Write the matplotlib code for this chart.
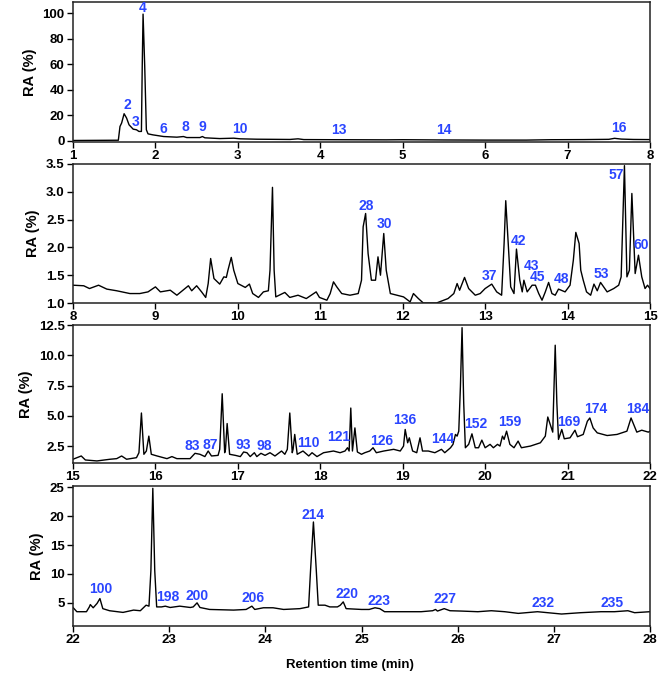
import matplotlib
matplotlib.use("Agg")
import matplotlib.pyplot as plt

plt.rcParams['font.family'] = ['Liberation Sans', 'DejaVu Sans']
plt.rcParams['font.weight'] = 'bold'

# ---------------- data ----------------
# Panel 1 (1-8 min)
t1 = [1.0, 1.55, 1.57, 1.59, 1.62, 1.65, 1.68, 1.73, 1.77, 1.80, 1.83, 1.84, 1.85, 1.87, 1.89,
      1.91, 1.97, 2.10, 2.26, 2.34, 2.38, 2.54, 2.57, 2.60, 2.78, 2.95, 3.03, 3.23, 3.63, 3.73,
      3.80, 4.20, 4.80, 5.00, 5.50, 6.00, 6.50, 6.80, 7.20, 7.50, 7.57, 7.65, 7.80, 8.0]
v1 = [0.3, 0.5, 11.3, 14.0, 21.3, 17.9, 12.6, 9.2, 8.7, 7.4, 7.4, 58.7, 99.5, 58.7, 8.7,
      5.5, 4.7, 3.4, 2.9, 3.4, 2.6, 2.6, 3.4, 2.4, 1.8, 2.1, 1.6, 1.3, 1.1, 1.6,
      1.0, 0.9, 0.8, 0.9, 0.7, 0.6, 0.6, 0.9, 1.0, 1.2, 2.0, 1.4, 1.1, 1.0]
lab1 = ['2', '3', '4', '6', '8', '9', '10', '13', '14', '16']
lx1 = [1.66, 1.76, 1.84, 2.10, 2.36, 2.57, 3.02, 4.23, 5.50, 7.62]
ly1 = [28.4, 14.7, 104, 9.5, 10.5, 10.5, 9.2, 8.7, 8.7, 10.0]

# Panel 2 (8-15 min)
t2 = [8.00, 8.13, 8.20, 8.31, 8.41, 8.53, 8.69, 8.81, 8.91, 9.00, 9.06, 9.18, 9.26, 9.40, 9.44,
      9.50, 9.56, 9.61, 9.64, 9.67, 9.71, 9.78, 9.83, 9.86, 9.88, 9.92, 9.95, 10.00, 10.09, 10.14,
      10.18, 10.25, 10.31, 10.37, 10.39, 10.42, 10.44, 10.46, 10.57, 10.63, 10.73, 10.83, 10.95,
      10.99, 11.08, 11.12, 11.16, 11.20, 11.26, 11.36, 11.46, 11.50, 11.52, 11.55, 11.58, 11.62,
      11.67, 11.70, 11.73, 11.77, 11.80, 11.85, 11.93, 12.01, 12.09, 12.13, 12.19, 12.25, 12.41,
      12.55, 12.62, 12.66, 12.69, 12.75, 12.80, 12.88, 12.94, 13.00, 13.08, 13.14, 13.20, 13.23,
      13.25, 13.28, 13.31, 13.35, 13.38, 13.42, 13.45, 13.47, 13.51, 13.57, 13.61, 13.65, 13.69,
      13.73, 13.77, 13.81, 13.85, 13.89, 13.97, 14.03, 14.07, 14.10, 14.14, 14.16, 14.19, 14.23,
      14.28, 14.32, 14.36, 14.40, 14.48, 14.56, 14.62, 14.65, 14.69, 14.72, 14.75, 14.78, 14.82,
      14.86, 14.90, 14.94, 14.97, 15.00]
v2 = [1.32, 1.31, 1.26, 1.32, 1.25, 1.22, 1.17, 1.17, 1.20, 1.29, 1.20, 1.23, 1.14, 1.31, 1.22,
      1.31, 1.20, 1.10, 1.35, 1.80, 1.44, 1.34, 1.47, 1.46, 1.59, 1.82, 1.59, 1.35, 1.28, 1.34,
      1.17, 1.10, 1.20, 1.22, 1.59, 3.08, 1.59, 1.11, 1.19, 1.10, 1.14, 1.08, 1.20,
      1.10, 1.05, 1.17, 1.38, 1.29, 1.17, 1.14, 1.17, 1.41, 2.37, 2.61, 1.89, 1.41,
      1.41, 1.83, 1.50, 2.25, 1.59, 1.17, 1.14, 1.11, 1.02, 1.17, 1.08, 1.00, 1.00,
      1.08, 1.17, 1.35, 1.23, 1.46, 1.26, 1.14, 1.17, 1.26, 1.34, 1.20, 1.14, 2.07,
      2.84, 2.07, 1.29, 1.17, 1.97, 1.41, 1.20, 1.41, 1.20, 1.32, 1.32, 1.17, 1.05,
      1.20, 1.37, 1.17, 1.14, 1.25, 1.20, 1.32, 1.77, 2.27, 2.07, 1.59, 1.41, 1.20,
      1.14, 1.34, 1.22, 1.37, 1.20, 1.26, 1.32, 1.47, 3.47, 1.47, 1.59, 2.97, 1.53,
      1.86, 1.47, 1.26, 1.32, 1.26]
lab2 = ['28', '30', '37', '42', '43', '45', '48', '53', '57', '60']
lx2 = [11.56, 11.78, 13.05, 13.40, 13.56, 13.64, 13.93, 14.41, 14.59, 14.89]
ly2 = [2.75, 2.42, 1.49, 2.12, 1.67, 1.46, 1.44, 1.52, 3.30, 2.04]

# Panel 3 (15-22 min)
t3 = [15.00, 15.10, 15.15, 15.29, 15.45, 15.53, 15.59, 15.65, 15.77, 15.80, 15.83, 15.86, 15.89,
      15.92, 15.95, 16.02, 16.14, 16.20, 16.26, 16.42, 16.48, 16.54, 16.60, 16.64, 16.68, 16.76,
      16.78, 16.81, 16.84, 16.85, 16.87, 16.90, 16.97, 17.03, 17.07, 17.11, 17.15, 17.20, 17.23,
      17.28, 17.33, 17.39, 17.45, 17.53, 17.57, 17.60, 17.63, 17.66, 17.67, 17.69, 17.72, 17.79,
      17.86, 17.90, 17.96, 18.04, 18.16, 18.24, 18.30, 18.33, 18.35, 18.37, 18.39, 18.42, 18.45,
      18.50, 18.54, 18.60, 18.64, 18.68, 18.77, 18.89, 18.97, 19.01, 19.03, 19.06, 19.08, 19.12,
      19.17, 19.21, 19.24, 19.31, 19.39, 19.47, 19.51, 19.58, 19.61, 19.64, 19.66, 19.68, 19.70,
      19.72, 19.74, 19.76, 19.80, 19.84, 19.88, 19.92, 19.96, 20.00, 20.06, 20.10, 20.15, 20.18,
      20.21, 20.23, 20.26, 20.30, 20.35, 20.40, 20.44, 20.55, 20.67, 20.73, 20.76, 20.79, 20.82,
      20.85, 20.87, 20.89, 20.93, 20.96, 21.03, 21.09, 21.12, 21.19, 21.24, 21.27, 21.31, 21.36,
      21.48, 21.60, 21.72, 21.77, 21.81, 21.84, 21.90, 21.98, 22.00]
v3 = [1.41, 1.68, 1.35, 1.27, 1.41, 1.46, 1.68, 1.41, 1.54, 1.95, 5.23, 1.82, 2.09,
      3.32, 1.82, 1.68, 1.46, 1.63, 1.46, 1.46, 1.90, 1.82, 1.63, 2.09, 1.68, 1.73,
      2.23, 6.82, 1.95, 2.23, 4.36, 1.82, 1.73, 1.63, 2.01, 1.95, 1.63, 1.95, 1.63,
      1.90, 1.73, 1.95, 1.68, 2.09, 1.82, 2.23, 5.23, 1.95, 2.23, 3.46, 1.82, 2.09,
      1.68, 1.95, 1.63, 1.95, 2.09, 1.95, 2.09, 2.36, 2.09, 5.64, 2.09, 4.00, 2.01,
      1.82, 1.95, 2.09, 2.36, 1.95, 2.09, 2.23, 2.09, 2.50, 3.87, 2.77, 3.18, 2.09,
      1.95, 3.18, 2.09, 2.09, 1.95, 2.23, 1.95, 2.36, 2.64, 3.46, 3.32, 3.73, 7.42,
      12.28, 6.05, 2.36, 2.64, 3.51, 2.36, 2.36, 2.99, 2.36, 2.64, 2.36, 2.64, 2.50,
      3.32, 3.05, 3.73, 2.64, 2.36, 2.91, 2.36, 2.50, 2.77, 3.32, 4.90, 4.28, 3.65,
      10.83, 6.05, 3.05, 3.87, 3.10, 3.18, 3.81, 3.27, 3.46, 4.55, 4.82, 4.00, 3.59,
      3.37, 3.46, 3.73, 4.82, 4.14, 3.65, 3.81, 3.65, 3.73]
lab3 = ['83', '87', '93', '98', '110', '121', '126', '136', '144', '152', '159', '169', '174', '184']
lx3 = [16.45, 16.66, 17.07, 17.32, 17.86, 18.22, 18.74, 19.03, 19.49, 19.89, 20.30, 21.01, 21.34, 21.85]
ly3 = [2.50, 2.61, 2.61, 2.50, 2.72, 3.24, 2.88, 4.69, 3.05, 4.33, 4.47, 4.52, 5.56, 5.56]

# Panel 4 (22-28 min)
t4 = [22.00, 22.04, 22.14, 22.17, 22.18, 22.21, 22.25, 22.28, 22.31, 22.38, 22.52, 22.63, 22.70,
      22.76, 22.79, 22.81, 22.83, 22.85, 22.87, 22.92, 22.96, 23.01, 23.11, 23.22, 23.25, 23.29,
      23.32, 23.42, 23.67, 23.80, 23.86, 23.89, 23.98, 24.08, 24.19, 24.36, 24.45, 24.47, 24.50,
      24.53, 24.55, 24.62, 24.67, 24.75, 24.78, 24.81, 24.84, 25.00, 25.08, 25.14, 25.19, 25.24,
      25.41, 25.62, 25.74, 25.77, 25.79, 25.86, 25.92, 26.04, 26.21, 26.35, 26.49, 26.63, 26.83,
      27.08, 27.28, 27.49, 27.63, 27.77, 27.84, 28.00]
v4 = [4.20, 3.47, 3.47, 4.30, 4.70, 4.15, 4.90, 5.74, 4.00, 3.64, 3.35, 3.75, 3.64,
      4.60, 4.43, 10.57, 24.80, 10.57, 4.30, 4.30, 4.43, 4.20, 4.43, 4.20, 4.30, 5.00,
      4.20, 3.86, 3.75, 3.86, 4.43, 3.86, 4.15, 4.15, 3.86, 4.00, 4.30, 10.57, 18.98,
      10.57, 4.60, 4.60, 4.30, 4.30, 4.60, 5.17, 4.00, 3.86, 3.86, 4.15, 4.00, 3.47,
      3.47, 3.47, 3.64, 3.86, 3.58, 4.00, 3.64, 3.58, 3.47, 3.64, 3.47, 3.18, 3.47,
      3.07, 3.30, 3.47, 3.47, 3.64, 3.30, 3.47]
lab4 = ['100', '198', '200', '206', '214', '220', '223', '227', '232', '235']
lx4 = [22.29, 22.99, 23.29, 23.87, 24.50, 24.85, 25.18, 25.87, 26.89, 27.61]
ly4 = [7.44, 6.00, 6.20, 5.90, 20.20, 6.50, 5.34, 5.70, 4.90, 5.06]

xt1 = [1, 2, 3, 4, 5, 6, 7, 8]
xt2 = [8, 9, 10, 11, 12, 13, 14, 15]
xt3 = [15, 16, 17, 18, 19, 20, 21, 22]
xt4 = [22, 23, 24, 25, 26, 27, 28]
yt1 = [0, 20, 40, 60, 80, 100]
yt2 = [1.0, 1.5, 2.0, 2.5, 3.0, 3.5]
yt3 = [2.5, 5.0, 7.5, 10.0, 12.5]
yt4 = [5, 10, 15, 20, 25]

# ---------------- figure ----------------
fig = plt.figure(figsize=(6.58, 6.76), dpi=100)
left, width = 73 / 658, 577 / 658
H = 676.0
boxes = [(2, 141.5), (164, 303), (325, 463), (486, 626)]
panels = [
    (t1, v1, lab1, lx1, ly1, xt1, yt1, (1, 8), (-0.5, 109), '{:.0f}'),
    (t2, v2, lab2, lx2, ly2, xt2, yt2, (8, 15), (1.0, 3.5), '{:.1f}'),
    (t3, v3, lab3, lx3, ly3, xt3, yt3, (15, 22), (1.1, 12.5), '{:.1f}'),
    (t4, v4, lab4, lx4, ly4, xt4, yt4, (22, 28), (1.0, 25.2), '{:.0f}'),
]
blue = '#2a45ff'
for (top, bot), (t, v, lab, lx, ly, xt, yt, xl, yl, fmt) in zip(boxes, panels):
    ax = fig.add_axes([left, 1 - bot / H, width, (bot - top) / H])
    ax.plot(t, v, color='black', lw=1.0)
    ax.set_xlim(*xl)
    ax.set_ylim(*yl)
    ax.set_xticks(xt)
    ax.set_yticks(yt)
    ax.set_yticklabels([fmt.format(y) for y in yt])
    ax.tick_params(direction='out', length=4, width=1.0, labelsize=9.5, pad=2)
    for lbl in ax.get_xticklabels() + ax.get_yticklabels():
        lbl.set_fontweight('bold')
    for s in ax.spines.values():
        s.set_linewidth(1.1)
        s.set_color('#222222')
    ax.set_ylabel('RA (%)', fontsize=10.5, fontweight='bold', labelpad=4)
    for s_, x_, y_ in zip(lab, lx, ly):
        ax.text(x_, y_, s_, color=blue, fontsize=10, fontweight='bold',
                ha='center', va='center')

fig.text(0.532, 1 - 665 / H, 'Retention time (min)', ha='center', va='center',
         fontsize=9.5, fontweight='bold')
fig.savefig('out.png', dpi=100)
